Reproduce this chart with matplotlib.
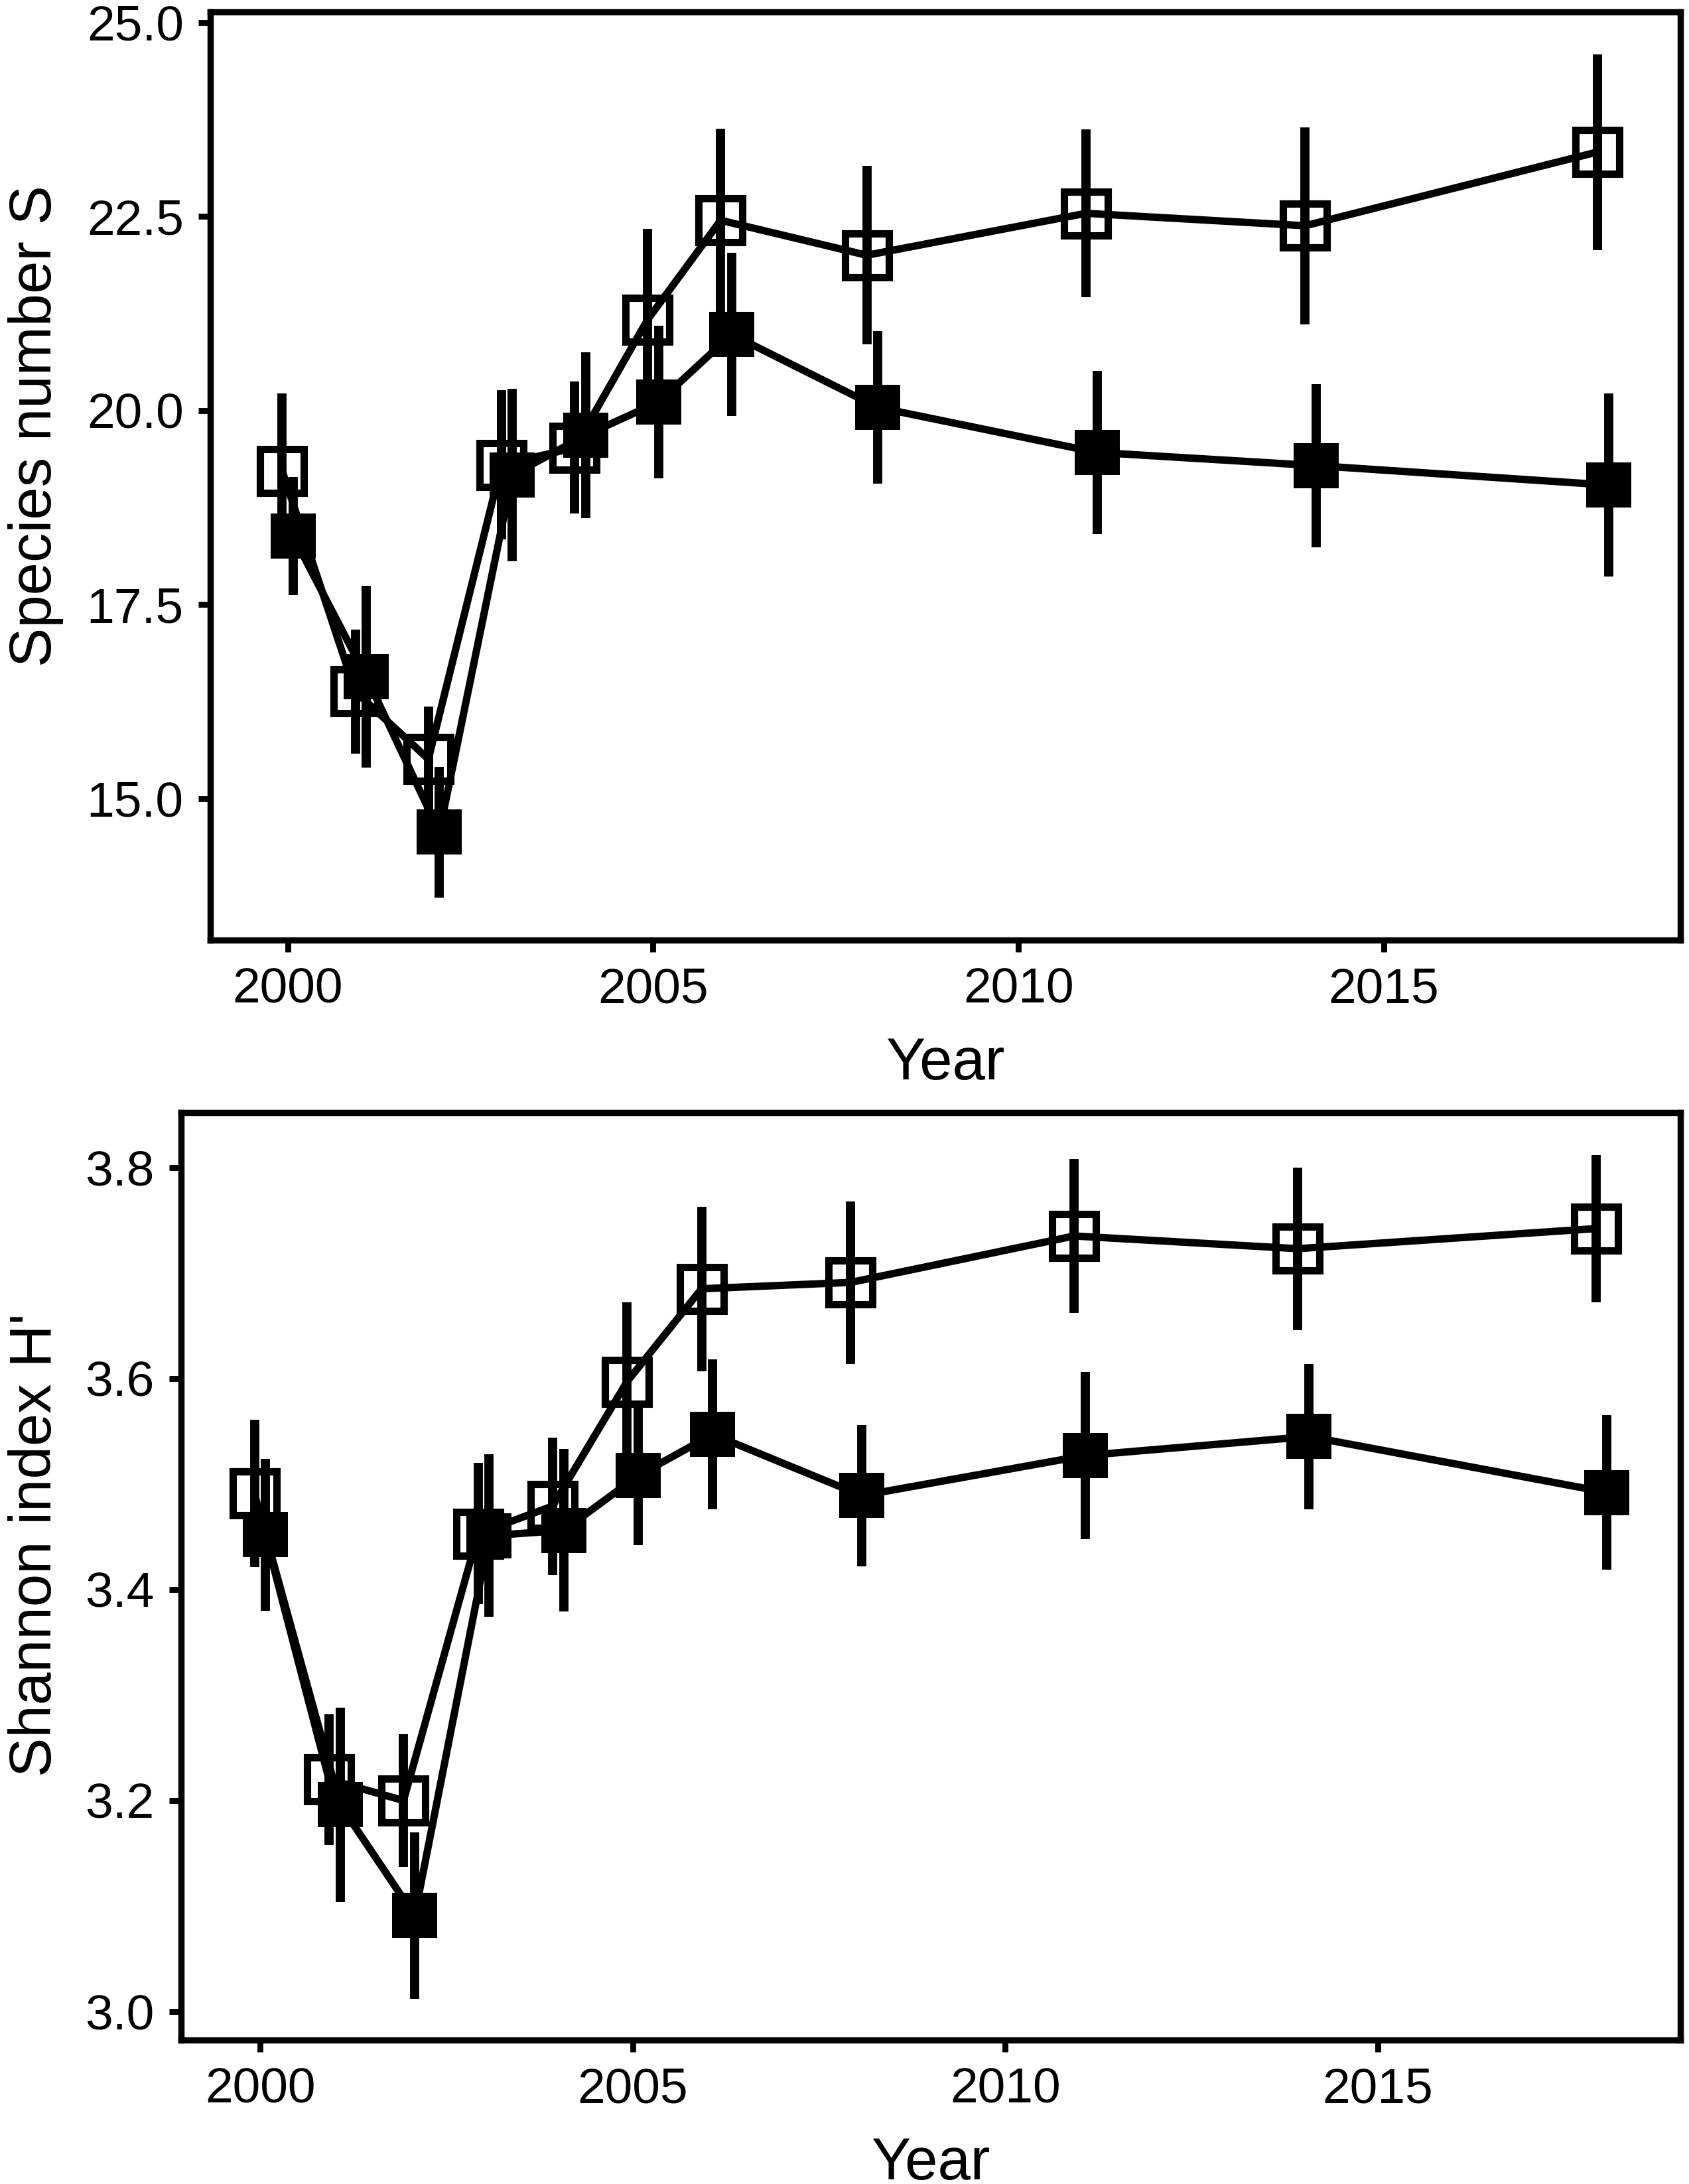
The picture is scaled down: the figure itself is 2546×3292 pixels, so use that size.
import numpy as np
import matplotlib
matplotlib.use('Agg')
import matplotlib.pyplot as plt

plt.rcParams['font.family'] = ['Liberation Sans', 'DejaVu Sans']

years = np.array([2000, 2001, 2002, 2003, 2004, 2005, 2006, 2008, 2011, 2014, 2018])

# species number S
s_open = [19.22, 16.38, 15.51, 19.30, 19.52, 21.17, 22.45, 22.00, 22.54, 22.38, 23.33]
s_open_err = [1.00, 0.80, 0.68, 0.96, 0.85, 1.17, 1.18, 1.15, 1.08, 1.27, 1.26]
s_filled = [18.38, 16.57, 14.57, 19.17, 19.68, 20.11, 20.98, 20.04, 19.46, 19.29, 19.04]
s_filled_err = [0.76, 1.17, 0.84, 1.11, 1.07, 0.98, 1.05, 0.98, 1.05, 1.05, 1.18]

# Shannon index H'
h_open = [3.491, 3.220, 3.200, 3.453, 3.479, 3.597, 3.685, 3.691, 3.735, 3.723, 3.742]
h_open_err = [0.070, 0.062, 0.063, 0.067, 0.065, 0.075, 0.078, 0.077, 0.073, 0.077, 0.070]
h_filled = [3.452, 3.196, 3.091, 3.451, 3.456, 3.508, 3.547, 3.489, 3.527, 3.545, 3.492]
h_filled_err = [0.072, 0.092, 0.079, 0.077, 0.077, 0.066, 0.071, 0.067, 0.079, 0.069, 0.073]

x_ticks = [2000, 2005, 2010, 2015]
s_ticks = [15.0, 17.5, 20.0, 22.5, 25.0]
h_ticks = [3.0, 3.2, 3.4, 3.6, 3.8]

dodge = 0.075
DPI = 200
fig = plt.figure(figsize=(2546 / DPI, 3292 / DPI), dpi=DPI)


def panel(ax, y_open, e_open, y_fill, e_fill, yticks, ylim, ylabel, ylab_xy):
    xo = years - dodge
    xf = years + dodge
    ax.plot(xo, y_open, color='black', lw=4.0, zorder=2)
    ax.plot(xf, y_fill, color='black', lw=4.0, zorder=2)
    ax.errorbar(xo, y_open, yerr=e_open, fmt='none', ecolor='black',
                elinewidth=5.0, capsize=0, zorder=3)
    ax.errorbar(xf, y_fill, yerr=e_fill, fmt='none', ecolor='black',
                elinewidth=5.0, capsize=0, zorder=3)
    ax.plot(xo, y_open, ls='none', marker='s', ms=24, mfc='none',
            mec='black', mew=4.0, zorder=4)
    ax.plot(xf, y_fill, ls='none', marker='s', ms=24.5, mfc='black',
            mec='black', mew=0, zorder=5)
    ax.set_xlim(1998.94, 2019.06)
    ax.set_ylim(*ylim)
    ax.set_xticks(x_ticks)
    ax.set_yticks(yticks)
    ax.set_yticklabels(['{:.1f}'.format(t) for t in yticks])
    ax.tick_params(direction='out', length=6.5, width=3.2,
                   labelsize=27, colors='black')
    ax.tick_params(axis='x', pad=8)
    ax.tick_params(axis='y', pad=8)
    for sp in ax.spines.values():
        sp.set_linewidth(3.4)
    ax.set_xlabel('Year', fontsize=32)
    ax.xaxis.set_label_coords(0.5, -0.1037)
    ax.set_ylabel(ylabel, fontsize=32)
    ax.yaxis.set_label_coords(*ylab_xy)


ax1 = fig.add_axes([0.1245, 0.5696, 0.8704, 0.4248])
panel(ax1, s_open, s_open_err, s_filled, s_filled_err, s_ticks,
      (13.18, 25.13), 'Species number S', (-0.0997, 0.554))

ax2 = fig.add_axes([0.1072, 0.0659, 0.8877, 0.4247])
panel(ax2, h_open, h_open_err, h_filled, h_filled_err, h_ticks,
      (2.973, 3.852), "Shannon index H'", (-0.0783, 0.534))

fig.savefig('out.png', dpi=DPI)
